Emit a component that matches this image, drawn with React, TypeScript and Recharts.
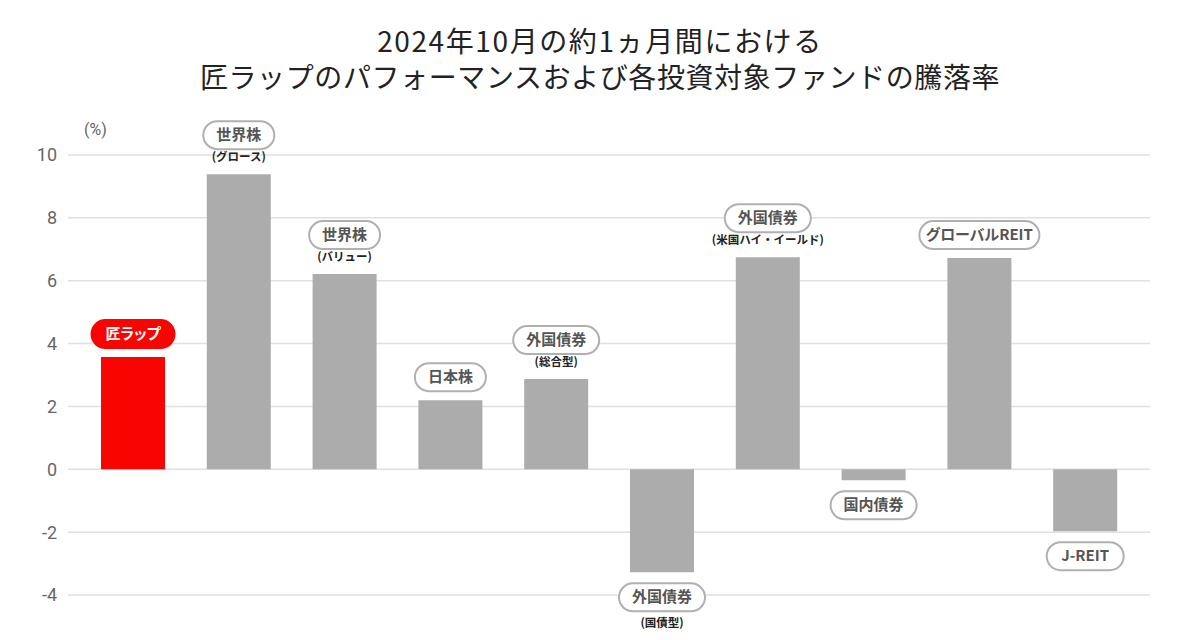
import { BarChart, Bar, XAxis, YAxis, CartesianGrid, Cell, LabelList } from 'recharts';

const categories = ['匠ラップ', '世界株G', '世界株V', '日本株', '外債総合', '外債国債', '外債HY', '国内債券', 'グローバルREIT', 'J-REIT'];
const mainLabels = ['匠ラップ', '世界株', '世界株', '日本株', '外国債券', '外国債券', '外国債券', '国内債券', 'グローバルREIT', 'J-REIT'];
const subLabels = ['', '(グロース)', '(バリュー)', '', '(総合型)', '(国債型)', '(米国ハイ・イールド)', '', '', ''];
const returns = [3.57, 9.39, 6.21, 2.2, 2.87, -3.28, 6.75, -0.35, 6.72, -1.97];
const yTicks = [-4, -2, 0, 2, 4, 6, 8, 10];

const data = categories.map((name, i) => ({ name, value: returns[i] }));

const FONT = "'Noto Sans CJK JP', 'Noto Sans', sans-serif";

// rough text width for the pill, at 15px bold with proportional kana
function textWidth(s: string) {
    let w = 0;
    for (const ch of s) {
        if (/[\x20-\x7e]/.test(ch)) w += 8.5;
        else if (/[\u30a0-\u30ff]/.test(ch)) w += 12;
        else w += 15;
    }
    return w;
}

function PillLabel(props: any) {
    const { x, y, width, height, index } = props;
    const v = returns[index];
    const top = Math.min(y, y + height);
    const bottom = Math.max(y, y + height);
    const cx = x + width / 2;
    const main = mainLabels[index];
    const sub = subLabels[index];
    const isMain = index === 0;
    const pillW = textWidth(main) + (isMain ? 32 : 26);
    const pillH = 28;
    let pillY: number;
    let subY = 0;
    if (v >= 0) {
        if (sub) {
            subY = top - 16;
            pillY = top - 39;
        } else {
            pillY = top - 23;
        }
    } else {
        pillY = bottom + 25;
        subY = bottom + 52;
    }
    return (
        <g>
            <rect
                x={cx - pillW / 2}
                y={pillY - pillH / 2}
                width={pillW}
                height={pillH}
                rx={14}
                ry={14}
                fill={isMain ? '#f90400' : '#fff'}
                stroke={isMain ? '#f90400' : '#b0b0b0'}
                strokeWidth={2}
            />
            <text
                x={cx}
                y={pillY + 1}
                textAnchor="middle"
                dominantBaseline="middle"
                fontFamily={FONT}
                fontWeight={700}
                fontSize={15}
                fill={isMain ? '#fff' : '#555'}
                style={{ fontFeatureSettings: '"palt"' }}
            >
                {main}
            </text>
            {sub && (
                <text
                    x={cx}
                    y={subY}
                    textAnchor="middle"
                    dominantBaseline="middle"
                    fontFamily={FONT}
                    fontWeight={700}
                    fontSize={11.5}
                    fill="#222"
                >
                    {sub}
                </text>
            )}
        </g>
    );
}

export default function App() {
    return (
        <div style={{ position: 'absolute', left: 0, top: 0, width: 1200, height: 640, background: '#fff' }}>
            <div
                style={{
                    position: 'absolute',
                    left: 0,
                    top: 22,
                    width: 1200,
                    textAlign: 'center',
                    fontFamily: FONT,
                    fontSize: 28,
                    letterSpacing: 0.6,
                    lineHeight: '36px',
                    color: '#222',
                }}
            >
                <div style={{ letterSpacing: 1.6 }}>2024年10月の約1ヵ月間における</div>
                <div>匠ラップのパフォーマンスおよび各投資対象ファンドの騰落率</div>
            </div>
            <div
                style={{
                    position: 'absolute',
                    left: 84,
                    top: 120,
                    fontFamily: "Roboto, 'Noto Sans', sans-serif",
                    fontSize: 16,
                    color: '#666',
                }}
            >
                (%)
            </div>
            <BarChart
                width={1200}
                height={640}
                data={data}
                margin={{ top: 155, right: 50, bottom: 45, left: 8 }}
                barSize={64}
            >
                <CartesianGrid vertical={false} stroke="#e0e0e0" strokeWidth={1.5} />
                <XAxis dataKey="name" hide padding={{ left: 12, right: 12 }} />
                <YAxis
                    width={60}
                    domain={[-4, 10]}
                    ticks={yTicks}
                    axisLine={false}
                    tickLine={false}
                    tickMargin={5}
                    tick={{ fill: '#666', fontSize: 18, fontFamily: "Roboto, 'Noto Sans', sans-serif" }}
                />
                <Bar dataKey="value" isAnimationActive={false}>
                    {data.map((d, i) => (
                        <Cell key={d.name} fill={i === 0 ? '#f90400' : '#acacac'} />
                    ))}
                    <LabelList dataKey="value" content={<PillLabel />} />
                </Bar>
            </BarChart>
        </div>
    );
}
